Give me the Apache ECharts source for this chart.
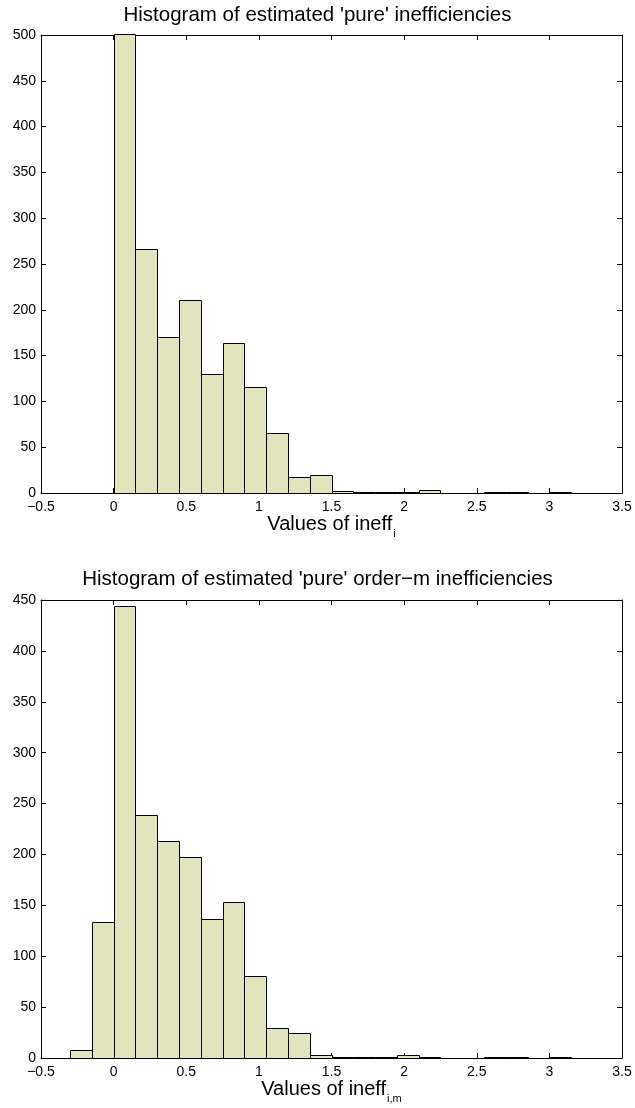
<!DOCTYPE html>
<html>
<head>
<meta charset="utf-8">
<script src="https://cdn.jsdelivr.net/npm/echarts@6/dist/echarts.min.js"></script>
<style>
  html, body { margin: 0; padding: 0; background: #fff; }
  #chart { width: 635px; height: 1108px; }
</style>
</head>
<body>
<div id="chart"></div>
<script>
// Histogram bin edges (shared by both panels)
const binEdges = [-0.3, -0.15, 0, 0.15, 0.3, 0.45, 0.6, 0.75, 0.9, 1.05, 1.2, 1.35,
                  1.5, 1.65, 1.8, 1.95, 2.1, 2.25, 2.4, 2.55, 2.7, 2.85, 3.0, 3.15];
// Counts per bin
const countsPure   = [0, 0, 502, 266, 170, 211, 130, 164, 116, 65, 18, 20, 2, 1, 1, 1, 3, 0, 0, 1, 1, 0, 1];
const countsOrderM = [8, 134, 444, 239, 213, 197, 137, 153, 81, 29, 25, 3, 1, 1, 1, 3, 1, 0, 0, 1, 1, 0, 1];
// Axis tick settings
const xTicks = { min: -0.5, max: 3.5, interval: 0.5 };
const yTop = { min: 0, max: 500, interval: 50 };
const yBottom = { min: 0, max: 450, interval: 50 };
const titles = ["Histogram of estimated 'pure' inefficiencies",
                "Histogram of estimated 'pure' order\u2212m inefficiencies"];
const xNames = ['{a|Values of ineff}{s|i}', '{a|Values of ineff}{s|i,m}'];

const FONT = "'Liberation Sans', Arial, Helvetica, sans-serif";
const FILL = '#e1e4bc';

function toRows(counts) {
  return counts.map((c, i) => [binEdges[i], binEdges[i + 1], c]);
}

function fmtX(v) {
  return v < 0 ? '\u2212' + Math.abs(v) : String(v);
}

function renderBar(params, api) {
  const p0 = api.coord([api.value(0), api.value(2)]);
  const p1 = api.coord([api.value(1), 0]);
  const cs = params.coordSys;
  const rect = echarts.graphic.clipRectByRect(
    { x: p0[0], y: p0[1], width: p1[0] - p0[0], height: p1[1] - p0[1] },
    { x: cs.x, y: cs.y - 1, width: cs.width, height: cs.height + 2 }
  );
  if (!rect) return;
  const x0 = Math.round(rect.x) + 0.5;
  const x1 = Math.round(rect.x + rect.width) + 0.5;
  const y0 = Math.round(rect.y) + 0.5;
  const y1 = Math.round(rect.y + rect.height) + 0.5;
  return {
    type: 'rect',
    shape: { x: x0, y: y0, width: x1 - x0, height: y1 - y0 },
    style: { fill: FILL, stroke: '#000', lineWidth: 1 }
  };
}

const axisLine = { show: true, onZero: false, lineStyle: { color: '#000', width: 1 } };
const tick = { show: true, inside: true, length: 5, lineStyle: { color: '#000', width: 1 } };

function xAxes(gi, nameIdx) {
  return [
    {
      type: 'value', gridIndex: gi, position: 'bottom', ...xTicks,
      axisLine, axisTick: tick, splitLine: { show: false },
      axisLabel: { color: '#000', fontSize: 14, fontFamily: FONT, margin: 7, formatter: fmtX },
      name: xNames[nameIdx], nameLocation: 'middle', nameGap: 16,
      nameTextStyle: {
        color: '#000', fontFamily: FONT, verticalAlign: 'top',
        rich: {
          a: { fontSize: 20, fontFamily: FONT, color: '#000', verticalAlign: 'top', lineHeight: 22 },
          s: { fontSize: 11, fontFamily: FONT, color: '#000', verticalAlign: 'top', lineHeight: 12, padding: [14, 0, 0, 1] }
        }
      }
    },
    {
      type: 'value', gridIndex: gi, position: 'top', ...xTicks,
      axisLine, axisTick: tick, axisLabel: { show: false }, splitLine: { show: false }
    }
  ];
}

function yAxes(gi, ySet) {
  return [
    {
      type: 'value', gridIndex: gi, position: 'left', ...ySet,
      axisLine, axisTick: tick, splitLine: { show: false },
      axisLabel: { color: '#000', fontSize: 14, fontFamily: FONT, margin: 5 }
    },
    {
      type: 'value', gridIndex: gi, position: 'right', ...ySet,
      axisLine, axisTick: tick, axisLabel: { show: false }, splitLine: { show: false }
    }
  ];
}

const chart = echarts.init(document.getElementById('chart'), null, { renderer: 'canvas' });
chart.setOption({
  animation: false,
  backgroundColor: '#fff',
  title: [
    { text: titles[0], left: 'center', top: 5, padding: 0,
      textStyle: { fontSize: 20.5, fontWeight: 'normal', color: '#000', fontFamily: FONT } },
    { text: titles[1], left: 'center', top: 569, padding: 0,
      textStyle: { fontSize: 20.5, fontWeight: 'normal', color: '#000', fontFamily: FONT } }
  ],
  grid: [
    { left: 41, right: 13, top: 35, height: 458 },
    { left: 41, right: 13, top: 600, height: 458 }
  ],
  xAxis: [...xAxes(0, 0), ...xAxes(1, 1)],
  yAxis: [...yAxes(0, yTop), ...yAxes(1, yBottom)],
  series: [
    { type: 'custom', xAxisIndex: 0, yAxisIndex: 0, renderItem: renderBar,
      encode: { x: [0, 1], y: 2 }, data: toRows(countsPure) },
    { type: 'custom', xAxisIndex: 2, yAxisIndex: 2, renderItem: renderBar,
      encode: { x: [0, 1], y: 2 }, data: toRows(countsOrderM) }
  ]
});
</script>
</body>
</html>
